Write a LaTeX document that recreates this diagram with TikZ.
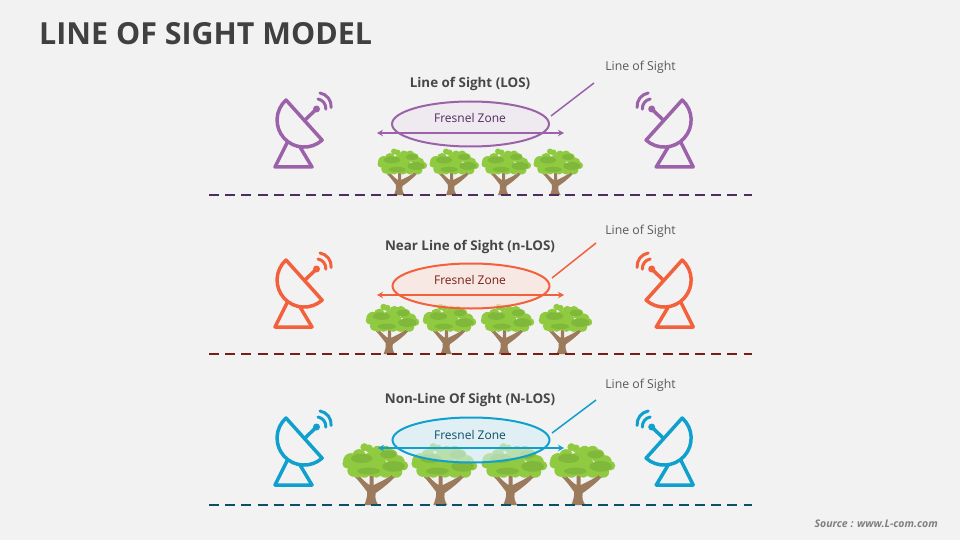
\documentclass[tikz,border=0pt]{standalone}
\usepackage{fontspec}
\setmainfont{Open Sans}
\usetikzlibrary{arrows.meta,shapes.geometric}
\definecolor{bg}{HTML}{F2F2F2}
\definecolor{leafa}{HTML}{8FCA40}
\definecolor{leafb}{HTML}{7FB83A}
\definecolor{bark}{HTML}{9C7A5C}
\definecolor{purp}{HTML}{9B62A9}
\definecolor{purpd}{HTML}{4F2D5C}
\definecolor{redc}{HTML}{F2603C}
\definecolor{reddk}{HTML}{7A1F14}
\definecolor{blu}{HTML}{0FA0CE}
\definecolor{bludk}{HTML}{0B5066}
\tikzset{
  x=1pt,y=-1pt,
  dishline/.style={line width=3.5pt,line join=round,line cap=round},
  lbl/.style={font=\fontsize{12}{14}\selectfont,inner sep=0pt,anchor=center},
  ttl/.style={font=\fontsize{13.4}{15}\selectfont\bfseries,text=black!72,inner sep=0pt,anchor=center},
  losl/.style={lbl,text=black!65,font=\fontsize{12.3}{14}\selectfont},
  zone/.style={ellipse,draw,line width=2pt,minimum width=157pt,minimum height=45pt,inner sep=0pt,fill opacity=0.6},
  span/.style={line width=1.8pt,{Stealth[length=6pt,width=6.5pt]}-{Stealth[length=6pt,width=6.5pt]}},
  lead/.style={line width=1.5pt},
  ground/.style={line width=2pt,dash pattern=on 10pt off 6.2pt},
  dishicon/.pic={
    \draw[dishline] (286,100) arc[start angle=228,delta angle=-180,radius=27] -- cycle;
    \draw[dishline] (287,143) -- (275,167) -- (312,167) -- (300,147);
    \draw[dishline] (305,120) -- (316.5,109);
    \fill (316.5,109) circle (3.5);
    \draw[line width=3pt,line cap=round] (318,99) arc (-80:5:9.5 and 9.5);
    \draw[line width=3pt,line cap=round] (320,93) arc (-80:5:13.5 and 13.5);
  },
  tree/.pic={
    \fill[bark] (-5,0) .. controls (-3.5,-4) and (-2.5,-7) .. (-3,-10) .. controls (-6,-14) and (-9,-18) .. (-12,-21) -- (-9,-22) .. controls (-6,-19) and (-3,-16) .. (-1,-15) -- (-1,-23) -- (2,-23) -- (2,-15) .. controls (6,-17) and (11,-19) .. (16,-23) -- (18,-21) .. controls (13,-16) and (8,-12) .. (3.5,-9) .. controls (3,-5) and (3.5,-3) .. (5.5,0) -- cycle;
    \foreach \cx/\cy/\r in {-15/-33/6,-9/-37/5,-18/-31/3.5,-5/-43.5/3,-1.5/-42.5/3,5/-40/4.5,11/-40/4.5,15/-37/5,20/-32/5.5,24.5/-29.5/3.5,19/-25/4.5,11/-26/5.5,2/-31/9.5,-6/-30/8.5,-13/-26/4.8,-5/-25/4.5,4/-24.5/4,-10/-24/3.5}
      {\fill[leafa] (\cx,\cy) circle (\r);}
    \fill[leafb] (-7,-35) ellipse (8 and 3.4);
    \fill[leafb] (-10,-36.5) circle (2.2);
    \fill[leafb] (13,-38) ellipse (6 and 3);
    \fill[leafb] (17,-29) ellipse (8.5 and 4);
    \fill[leafb] (-2,-25.5) ellipse (8.5 and 2.6);
  }
}
\begin{document}
\begin{tikzpicture}
\useasboundingbox (0,0) rectangle (960,540);
\fill[bg] (0,0) rectangle (960,540);
\node[inner sep=0pt,anchor=west,text=black!75,font=\fontsize{30.4}{38}\selectfont\bfseries] (title) at (39,34) {LINE OF SIGHT MODEL};
\node[inner sep=0pt,anchor=east,text=black!50,font=\fontsize{10.5}{13}\selectfont\bfseries\itshape] (src) at (938,524) {Source : www.L-com.com};

% ---- row 1
\pic[color=purp] at (0,0) {dishicon};
\pic[color=purp,xscale=-1] at (968.2,0) {dishicon};
\foreach \tx in {399,451,503,555}{\pic[scale=1] at (\tx,195) {tree};}
\coordinate (g1a) at (209,195); \coordinate (g1b) at (752,195);
\draw[ground,color=purpd] (g1a) -- (g1b);
\node[zone,draw=purp,fill=purp!18!white] (z1) at (470.5,124) {};
\node[lbl,text=purpd] (f1) at (470,118) {Fresnel Zone};
\coordinate (a1a) at (377,133); \coordinate (a1b) at (564,133);
\draw[span,color=purp] (a1a) -- (a1b);
\node[ttl] (t1) at (470,83.5) {Line of Sight (LOS)};
\node[losl] (l1) at (640.5,67) {Line of Sight};
\coordinate (c1a) at (551,116); \coordinate (c1b) at (594,83);
\draw[lead,color=purp] (c1a) -- (c1b);

% ---- row 2
\pic[color=redc] at (0,160) {dishicon};
\pic[color=redc,xscale=-1] at (968.2,160) {dishicon};
\foreach \tx in {389,446,504,562}{\pic[scale=1.08] at (\tx,354) {tree};}
\coordinate (g2a) at (209,354); \coordinate (g2b) at (752,354);
\draw[ground,color=reddk] (g2a) -- (g2b);
\node[zone,draw=redc,fill=redc!18!white] (z2) at (471,286) {};
\node[lbl,text=reddk] (f2) at (470,280) {Fresnel Zone};
\coordinate (a2a) at (377,295); \coordinate (a2b) at (564,295);
\draw[span,color=redc] (a2a) -- (a2b);
\node[ttl] (t2) at (470,247) {Near Line of Sight (n-LOS)};
\node[losl] (l2) at (640.5,231) {Line of Sight};
\coordinate (c2a) at (552,278); \coordinate (c2b) at (596,243);
\draw[lead,color=redc] (c2a) -- (c2b);

% ---- row 3
\pic[color=blu] at (0,318) {dishicon};
\pic[color=blu,xscale=-1] at (968.2,318) {dishicon};
\foreach \tx in {371,440,510,578}{\pic[scale=1.33] at (\tx,505) {tree};}
\coordinate (g3a) at (209,505); \coordinate (g3b) at (752,505);
\draw[ground,color=bludk] (g3a) -- (g3b);
\node[zone,draw=blu,fill=blu!18!white] (z3) at (471,440) {};
\node[lbl,text=bludk] (f3) at (470,435) {Fresnel Zone};
\coordinate (a3a) at (378,448); \coordinate (a3b) at (564,448);
\draw[span,color=blu] (a3a) -- (a3b);
\node[ttl] (t3) at (470,400) {Non-Line Of Sight (N-LOS)};
\node[losl] (l3) at (640.5,385.5) {Line of Sight};
\coordinate (c3a) at (552,433); \coordinate (c3b) at (596,400);
\draw[lead,color=blu] (c3a) -- (c3b);
\end{tikzpicture}
\end{document}
